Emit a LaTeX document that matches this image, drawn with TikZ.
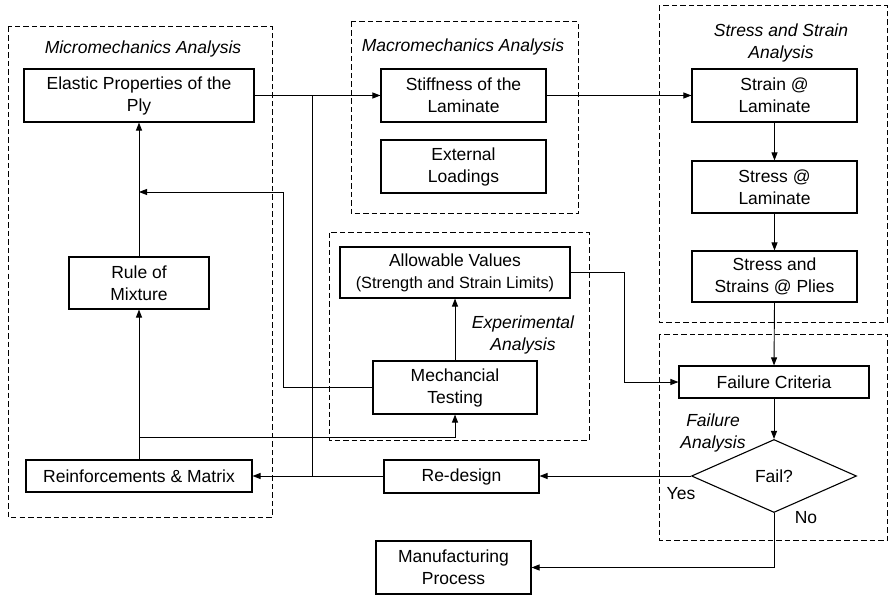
\documentclass[tikz,border=0pt]{standalone}
\usepackage{fontspec}
\setmainfont{Liberation Sans}
\usetikzlibrary{arrows.meta,shapes.geometric}
\newcommand{\dfont}{\fontsize{17.5}{22}\selectfont}
\newcommand{\sfont}{\fontsize{16.3}{22}\selectfont}
\begin{document}
\begin{tikzpicture}[x=1pt,y=-1pt,
  box/.style={draw,line width=1.1pt,rectangle,inner sep=0pt,align=center,font=\dfont},
  region/.style={draw,line width=1pt,dash pattern=on 5.5pt off 3pt},
  lbl/.style={font=\dfont\itshape,align=center,inner sep=0pt},
  plain/.style={font=\dfont,inner sep=0pt},
  conn/.style={line width=0.9pt},
  arr/.style={conn,-{Triangle[length=8pt,width=6pt]}}]
\useasboundingbox (0,0) rectangle (889,596);
% dashed regions
\draw[region] (8,27) rectangle (272,517);
\draw[region] (351,22) rectangle (578,214);
\draw[region] (659,6) rectangle (887.5,322);
\draw[region] (329,233) rectangle (589,440);
\draw[region] (659,334) rectangle (887.5,540);
% region labels
\node[lbl] (tmicro) at (143,49) {Micromechanics Analysis};
\node[lbl] (tmacro) at (463,47) {Macromechanics Analysis};
\node[lbl] (tstress) at (781,43) {Stress and Strain\\Analysis};
\node[lbl] (texp) at (523,335) {Experimental\\Analysis};
\node[lbl] (tfail) at (713,433) {Failure\\Analysis};
% boxes
\node[box,minimum width=230pt,minimum height=53pt] (elastic) at (139,95.5) {Elastic Properties of the\\Ply};
\node[box,minimum width=140pt,minimum height=52pt] (rule) at (139,283) {Rule of\\Mixture};
\node[box,minimum width=226pt,minimum height=32pt] (reinf) at (139,476) {Reinforcements \& Matrix};
\node[box,minimum width=165pt,minimum height=53pt] (stiff) at (463.5,95.5) {Stiffness of the\\Laminate};
\node[box,minimum width=165pt,minimum height=53pt] (ext) at (463.5,166.5) {External\\Loadings};
\node[box,minimum width=165pt,minimum height=53pt] (strain) at (774.5,95.5) {Strain @\\Laminate};
\node[box,minimum width=165pt,minimum height=52pt] (stress) at (774.5,187) {Stress @\\Laminate};
\node[box,minimum width=165pt,minimum height=51pt] (plies) at (774.5,276.5) {Stress and\\Strains @ Plies};
\node[box,minimum width=230pt,minimum height=51pt] (allow) at (455,272.5) {Allowable Values\\{\sfont (Strength and Strain Limits)}};
\node[box,minimum width=164pt,minimum height=53pt] (mech) at (455,387.5) {Mechancial\\Testing};
\node[box,minimum width=190pt,minimum height=32pt] (fc) at (774,382) {Failure Criteria};
\node[draw,diamond,line width=1.1pt,minimum width=165pt,minimum height=73pt,inner sep=0pt,font=\dfont] (dia) at (774,476) {Fail?};
\node[box,minimum width=155pt,minimum height=33pt] (redesign) at (461.5,476.5) {Re-design};
\node[box,minimum width=155pt,minimum height=53pt] (manuf) at (453.5,567.5) {Manufacturing\\Process};
\node[plain] (yes) at (681,494) {Yes};
\node[plain] (no) at (806,518) {No};
% connectors
\coordinate (jr) at (312,476);
\coordinate (jm) at (139,192);
\coordinate (jb) at (139,437);
\coordinate (km) at (283,192);
\draw[arr] (elastic.east) -- (stiff.west);
\draw[arr] (stiff.east) -- (strain.west);
\draw[arr] (strain.south) -- (stress.north);
\draw[arr] (stress.south) -- (plies.north);
\draw[arr] (plies.south) -- (fc.north);
\draw[arr] (fc.south) -- (dia.north);
\draw[arr] (allow.east) -- ++(54,0) |- (fc.west);
\draw[arr] (dia.west) -- (dia.west -| redesign.east);
\draw[arr] (redesign.west |- jr) -- (jr -| reinf.east);
\draw[conn] (jr) -- (jr |- elastic.east);
\draw[arr] (rule.north) -- (elastic.south);
\draw[arr] (reinf.north) -- (rule.south);
\draw[arr] (mech.west) -| (km) -- (jm);
\draw[arr] (jb) -| (mech.south);
\draw[arr] (mech.north) -- (allow.south);
\draw[arr] (dia.south) |- (manuf.east);
\end{tikzpicture}
\end{document}
